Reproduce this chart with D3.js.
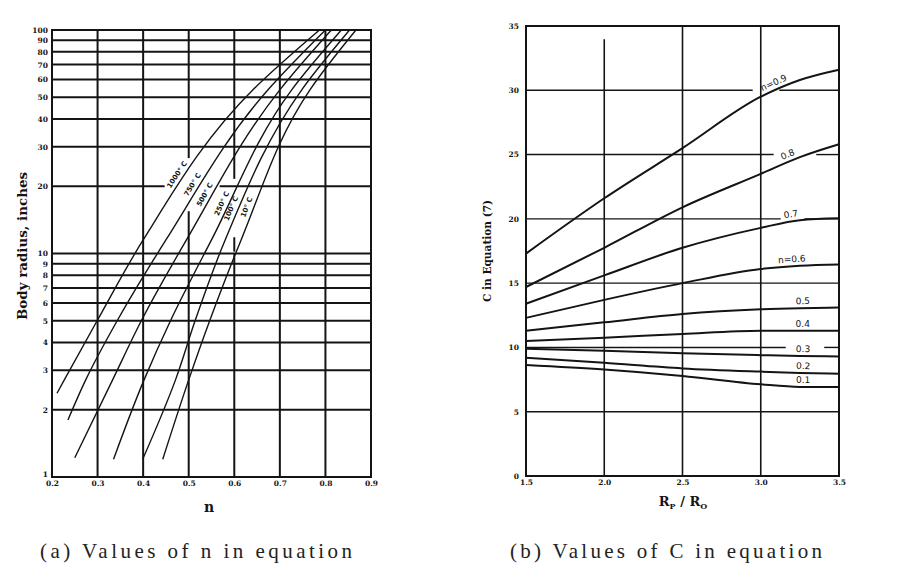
<!DOCTYPE html>
<html><head><meta charset="utf-8">
<script src="https://cdn.jsdelivr.net/npm/d3@7"></script>
<style>html,body{margin:0;padding:0;background:#fff}svg{display:block}</style>
</head><body>
<svg id="c" width="898" height="568"></svg>
<script>
// ================= DATA: chart (a) =================
const nTicks = [0.2,0.3,0.4,0.5,0.6,0.7,0.8,0.9];
const radiusTicks = [1,2,3,4,5,6,7,8,9,10,20,30,40,50,60,70,80,90,100];
const tempLabels = ["1000° C","750° C","500° C","250° C","100° C","10° C"];
const startN = [0.211,0.235,0.250,0.335,0.399,0.443];
const startR = [2.37,1.80,1.22,1.20,1.20,1.20];
const curveR = [2.72,5,11.5,54,100];
const n1000 = [0.227,0.299,0.400,0.641,0.787];
const n750  = [0.274,0.343,0.450,0.674,0.800];
const n500  = [0.333,0.396,0.495,0.700,0.813];
const n250  = [0.402,0.460,0.550,0.726,0.835];
const n100  = [0.471,0.514,0.580,0.748,0.853];
const n10   = [0.500,0.546,0.615,0.766,0.867];

// ================= DATA: chart (b) =================
const ratioTicks = [1.5,2.0,2.5,3.0,3.5];
const cTicks = [0,5,10,15,20,25,30,35];
const ratioX = [1.5,2.0,2.5,3.0,3.25,3.5];
const nLabels = ["n=0.9","0.8","0.7","n=0.6","0.5","0.4","0.3","0.2","0.1"];
const c09 = [17.3,21.6,25.5,29.5,30.8,31.6];
const c08 = [14.7,17.75,20.9,23.5,24.8,25.8];
const c07 = [13.4,15.6,17.75,19.3,19.9,20.05];
const c06 = [12.3,13.7,15.0,16.1,16.35,16.45];
const c05 = [11.3,11.95,12.6,12.96,13.05,13.1];
const c04 = [10.5,10.75,11.05,11.3,11.3,11.3];
const c03 = [9.9,9.75,9.55,9.4,9.33,9.3];
const c02 = [9.2,8.8,8.37,8.12,8.02,7.95];
const c01 = [8.63,8.28,7.78,7.13,6.93,6.92];

// ================= LAYOUT =================
const ink = "#141414";
const serifB = "'DejaVu Serif', 'Liberation Serif', serif";
const svg = d3.select("#c");
svg.append("rect").attr("width",898).attr("height",568).attr("fill","#fff");

function withGaps(a0, a1, gaps){
  const out=[]; let cur=a0;
  gaps.slice().sort((p,q)=>p[0]-q[0]).forEach(([g0,g1])=>{ if(g0>cur) out.push([cur,g0]); cur=Math.max(cur,g1); });
  if(cur<a1) out.push([cur,a1]);
  return out;
}
function line(g,x1,y1,x2,y2,w){
  g.append("line").attr("x1",x1).attr("y1",y1).attr("x2",x2).attr("y2",y2)
   .attr("stroke",ink).attr("stroke-width",w).attr("stroke-linecap","square");
}

// ---------------- chart (a) ----------------
const xA = d3.scaleLinear().domain([0.2,0.9]).range([52,371]);
const yA = d3.scaleLog().domain([1,100]).range([477,30]);
const gA = svg.append("g");
const vGapsA = {"0.5":[[15.3,27]], "0.6":[[9.85,10.3],[11.7,21.8]]};
const hGapsA = {"20":[[0.445,0.57]]};

radiusTicks.forEach(r=>{
  const gaps=(hGapsA[String(r)]||[]).map(([a,b])=>[xA(a),xA(b)]);
  withGaps(xA(0.2),xA(0.9),gaps).forEach(([a,b])=>line(gA,a,yA(r),b,yA(r),2));
});
nTicks.forEach(n=>{
  const key=n.toFixed(1);
  const gaps=(vGapsA[key]||[]).map(([lo,hi])=>[yA(hi),yA(lo)]);
  withGaps(yA(100),yA(1),gaps).forEach(([a,b])=>line(gA,xA(n),a,xA(n),b,2));
});

const axLA = gA.append("g").attr("transform",`translate(${xA(0.2)-1},0)`)
  .call(d3.axisLeft(yA).tickValues(radiusTicks).tickFormat(d3.format("d")).tickSize(0).tickPadding(3));
axLA.select(".domain").remove();
axLA.selectAll("text").attr("font-family",serifB).attr("font-weight","bold").attr("font-size",7.5).attr("fill",ink);
axLA.selectAll(".tick").filter(d=>d===1).select("text").attr("y",-3);

const axBA = gA.append("g").attr("transform",`translate(0,${yA(1)})`)
  .call(d3.axisBottom(xA).tickValues(nTicks).tickFormat(d3.format(".1f")).tickSize(0).tickPadding(4));
axBA.select(".domain").remove();
axBA.selectAll("text").attr("font-family",serifB).attr("font-weight","bold").attr("font-size",7.5).attr("fill",ink);

const tempCurves=[n1000,n750,n500,n250,n100,n10];
const lineA = d3.line().x(d=>xA(d[0])).y(d=>yA(d[1])).curve(d3.curveMonotoneY);
const labelRad = [22.5,20.3,18.3,16.7,15.9,16.1];
tempCurves.forEach((ns,i)=>{
  const pts=[[startN[i],startR[i]]].concat(ns.map((n,j)=>[n,curveR[j]])).reverse();
  const p=gA.append("path").attr("d",lineA(pts)).attr("fill","none").attr("stroke",ink).attr("stroke-width",1.4);
  const node=p.node(), L=node.getTotalLength(), ty=yA(labelRad[i]);
  let best=0, bd=1e9;
  for(let l=0;l<=L;l+=0.5){ const q=node.getPointAtLength(l); const d=Math.abs(q.y-ty); if(d<bd){bd=d;best=l;} }
  const q=node.getPointAtLength(best), q0=node.getPointAtLength(Math.max(0,best-4)), q1=node.getPointAtLength(Math.min(L,best+4));
  let dx=q1.x-q0.x, dy=q1.y-q0.y; if(dx<0){dx=-dx;dy=-dy;}
  const ang=Math.atan2(dy,dx)*180/Math.PI;
  gA.append("text").attr("transform",`translate(${q.x-7},${q.y}) rotate(${ang})`)
    .attr("text-anchor","middle").attr("dominant-baseline","central")
    .attr("font-family","'DejaVu Sans', sans-serif").attr("font-weight","bold").attr("font-size",7)
    .attr("fill",ink).text(tempLabels[i]);
});

gA.append("text").attr("transform","translate(22,246) rotate(-90)").attr("text-anchor","middle")
  .attr("dominant-baseline","central").attr("font-family",serifB).attr("font-weight","bold")
  .attr("font-size",12.5).attr("textLength",148).attr("lengthAdjust","spacingAndGlyphs")
  .attr("fill",ink).text("Body radius, inches");
gA.append("text").attr("x",209).attr("y",512).attr("text-anchor","middle")
  .attr("font-family",serifB).attr("font-weight","bold").attr("font-size",14).attr("fill",ink).text("n");

// ---------------- chart (b) ----------------
const xB = d3.scaleLinear().domain([1.5,3.5]).range([526,839]);
const yB = d3.scaleLinear().domain([0,35]).range([476,26]);
const gB = svg.append("g");
const hGapsB = {"30":[[2.944,3.123]],"25":[[3.078,3.359]],"20":[[3.123,3.283]],"10":[[3.155,3.41]]};
cTicks.forEach(c=>{
  const border=(c===0||c===35);
  const gaps=(hGapsB[String(c)]||[]).map(([a,b])=>[xB(a),xB(b)]);
  withGaps(xB(1.5),xB(3.5),gaps).forEach(([a,b])=>line(gB,a,yB(c),b,yB(c),border?2:1.4));
});
ratioTicks.forEach(r=>{
  const border=(r===1.5||r===3.5);
  const top = r===2.0 ? yB(33.9) : yB(35);
  line(gB,xB(r),top,xB(r),yB(0),border?2:1.6);
});

const axLB = gB.append("g").attr("transform",`translate(${xB(1.5)-3},0)`)
  .call(d3.axisLeft(yB).tickValues(cTicks).tickFormat(d3.format("d")).tickSize(0).tickPadding(4));
axLB.select(".domain").remove();
axLB.selectAll("text").attr("font-family",serifB).attr("font-weight","bold").attr("font-size",7.5).attr("fill",ink);
const axBB = gB.append("g").attr("transform",`translate(0,${yB(0)})`)
  .call(d3.axisBottom(xB).tickValues(ratioTicks).tickFormat(d3.format(".1f")).tickSize(0).tickPadding(4));
axBB.select(".domain").remove();
axBB.selectAll("text").attr("font-family",serifB).attr("font-weight","bold").attr("font-size",7.5).attr("fill",ink);

const cCurves=[c09,c08,c07,c06,c05,c04,c03,c02,c01];
const labelAt=[3.1,3.19,3.2,3.2,3.27,3.27,3.27,3.27,3.27];
const lineB = d3.line().x(d=>xB(d[0])).y(d=>yB(d[1])).curve(d3.curveMonotoneX);
cCurves.forEach((cs,i)=>{
  const pts=ratioX.map((x,j)=>[x,cs[j]]);
  const p=gB.append("path").attr("d",lineB(pts)).attr("fill","none").attr("stroke",ink).attr("stroke-width",2);
  const node=p.node(), L=node.getTotalLength(), tx=xB(labelAt[i]);
  let best=0,bd=1e9;
  for(let l=0;l<=L;l+=0.5){const q=node.getPointAtLength(l);const d=Math.abs(q.x-tx);if(d<bd){bd=d;best=l;}}
  const q=node.getPointAtLength(best), q0=node.getPointAtLength(Math.max(0,best-5)), q1=node.getPointAtLength(Math.min(L,best+5));
  const ang=Math.atan2(q1.y-q0.y,q1.x-q0.x)*180/Math.PI;
  gB.append("text").attr("transform",`translate(${q.x},${q.y}) rotate(${ang}) translate(0,-7)`)
    .attr("text-anchor","middle").attr("dominant-baseline","central")
    .attr("font-family","'DejaVu Sans', sans-serif").attr("font-size",9).attr("fill",ink).text(nLabels[i]);
});

gB.append("text").attr("transform","translate(487,251) rotate(-90)").attr("text-anchor","middle")
  .attr("dominant-baseline","central").attr("font-family",serifB).attr("font-weight","bold")
  .attr("font-size",10.5).attr("textLength",102).attr("lengthAdjust","spacingAndGlyphs")
  .attr("fill",ink).text("C in Equation (7)");
const rl = gB.append("text").attr("x",683).attr("y",506).attr("text-anchor","middle")
  .attr("font-family",serifB).attr("font-weight","bold").attr("font-size",13).attr("fill",ink);
rl.append("tspan").text("R");
rl.append("tspan").attr("font-size",8).attr("dy",3).text("P");
rl.append("tspan").attr("dy",-3).text(" / R");
rl.append("tspan").attr("font-size",8).attr("dy",3).text("O");

// ---------------- captions ----------------
svg.append("text").attr("x",40).attr("y",558).attr("font-family","'Liberation Serif', serif")
  .attr("font-size",21).attr("textLength",312).attr("lengthAdjust","spacing").attr("fill","#222")
  .text("(a) Values of n in equation");
svg.append("text").attr("x",510).attr("y",558).attr("font-family","'Liberation Serif', serif")
  .attr("font-size",21).attr("textLength",312).attr("lengthAdjust","spacing").attr("fill","#222")
  .text("(b) Values of C in equation");
</script>
</body></html>
